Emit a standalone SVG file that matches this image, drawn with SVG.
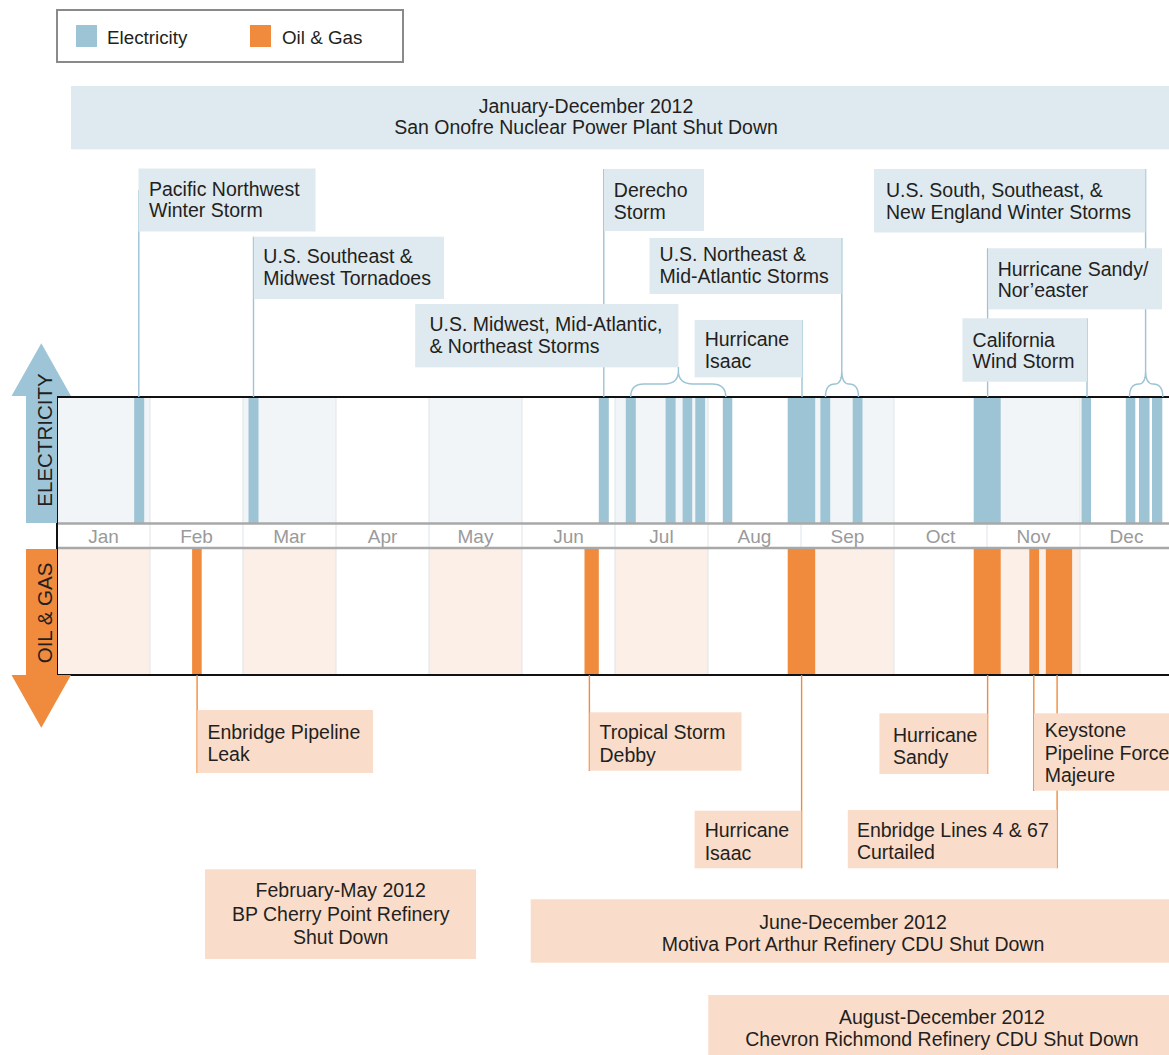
<svg xmlns="http://www.w3.org/2000/svg" width="1169" height="1055" viewBox="0 0 1169 1055">
<style>
.t{font-family:"Liberation Sans",Arial,sans-serif;font-size:19.5px;fill:#231f20}
.c{text-anchor:middle}
.eb{fill:#dfe9f0}
.ob{fill:#fadcca}
.ebar{fill:#9dc4d5}
.obar{fill:#f08a3c}
.esh{fill:#f1f5f8}
.osh{fill:#fbefe8}
.el{stroke:#9dc4d5;stroke-width:1.4;fill:none}
.ol{stroke:#f08a3c;stroke-width:1.4;fill:none}
.mon{font-family:"Liberation Sans",Arial,sans-serif;font-size:19px;fill:#9a9a9a;text-anchor:middle}
.grid{stroke:#dfe4e8;stroke-width:1}
</style>
<rect width="1169" height="1055" fill="#ffffff"/>

<g id="legend">
<rect x="57" y="10" width="346" height="52" fill="#ffffff" stroke="#8a8a8a" stroke-width="2"/>
<rect x="76" y="25" width="21" height="22" class="ebar"/>
<text x="107" y="44" class="t" style="font-size:18.8px">Electricity</text>
<rect x="250" y="25" width="21" height="22" class="obar"/>
<text x="282" y="44" class="t" style="font-size:18.8px">Oil &amp; Gas</text>
</g>

<g id="timeline">
<rect x="57" y="397" width="93" height="126" class="esh"/>
<rect x="243" y="397" width="93" height="126" class="esh"/>
<rect x="429" y="397" width="93" height="126" class="esh"/>
<rect x="615" y="397" width="93" height="126" class="esh"/>
<rect x="801" y="397" width="93" height="126" class="esh"/>
<rect x="987" y="397" width="93" height="126" class="esh"/>
<rect x="57" y="548" width="93" height="127" class="osh"/>
<rect x="243" y="548" width="93" height="127" class="osh"/>
<rect x="429" y="548" width="93" height="127" class="osh"/>
<rect x="615" y="548" width="93" height="127" class="osh"/>
<rect x="801" y="548" width="93" height="127" class="osh"/>
<rect x="987" y="548" width="93" height="127" class="osh"/>
<g class="grid">
<line x1="150" y1="397" x2="150" y2="675"/><line x1="243" y1="397" x2="243" y2="675"/>
<line x1="336" y1="397" x2="336" y2="675"/><line x1="429" y1="397" x2="429" y2="675"/>
<line x1="522" y1="397" x2="522" y2="675"/><line x1="615" y1="397" x2="615" y2="675"/>
<line x1="708" y1="397" x2="708" y2="675"/><line x1="801" y1="397" x2="801" y2="675"/>
<line x1="894" y1="397" x2="894" y2="675"/><line x1="987" y1="397" x2="987" y2="675"/>
<line x1="1080" y1="397" x2="1080" y2="675"/>
</g>
<g id="elec-bars">
<rect x="134.2" y="397" width="10" height="126" class="ebar"/>
<rect x="248.5" y="397" width="10" height="126" class="ebar"/>
<rect x="598.8" y="397" width="10" height="126" class="ebar"/>
<rect x="625.8" y="397" width="10" height="126" class="ebar"/>
<rect x="665.6" y="397" width="10" height="126" class="ebar"/>
<rect x="682.6" y="397" width="9.6" height="126" class="ebar"/>
<rect x="695.3" y="397" width="9.8" height="126" class="ebar"/>
<rect x="722.8" y="397" width="9.5" height="126" class="ebar"/>
<rect x="787.7" y="397" width="27.5" height="126" class="ebar"/>
<rect x="820.4" y="397" width="9.8" height="126" class="ebar"/>
<rect x="852.7" y="397" width="9.8" height="126" class="ebar"/>
<rect x="973.7" y="397" width="27" height="126" class="ebar"/>
<rect x="1081.5" y="397" width="9.5" height="126" class="ebar"/>
<rect x="1125.8" y="397" width="9.5" height="126" class="ebar"/>
<rect x="1139" y="397" width="10.5" height="126" class="ebar"/>
<rect x="1152" y="397" width="10.3" height="126" class="ebar"/>
</g>
<g id="oil-bars">
<rect x="192.1" y="548" width="9.6" height="127" class="obar"/>
<rect x="584.5" y="548" width="14.3" height="127" class="obar"/>
<rect x="787.7" y="548" width="27.5" height="127" class="obar"/>
<rect x="973.7" y="548" width="27" height="127" class="obar"/>
<rect x="1029.3" y="548" width="9.8" height="127" class="obar"/>
<rect x="1045.8" y="548" width="26.3" height="127" class="obar"/>
</g>
<line x1="57" y1="523.5" x2="1169" y2="523.5" stroke="#a8a8a8" stroke-width="2.5"/>
<line x1="57" y1="548" x2="1169" y2="548" stroke="#a8a8a8" stroke-width="2.5"/>
<rect x="57" y="397" width="1120" height="278" fill="none" stroke="#111111" stroke-width="2"/>
<g id="months">
<text x="103.5" y="542.7" class="mon">Jan</text>
<text x="196.5" y="542.7" class="mon">Feb</text>
<text x="289.5" y="542.7" class="mon">Mar</text>
<text x="382.5" y="542.7" class="mon">Apr</text>
<text x="475.5" y="542.7" class="mon">May</text>
<text x="568.5" y="542.7" class="mon">Jun</text>
<text x="661.5" y="542.7" class="mon">Jul</text>
<text x="754.5" y="542.7" class="mon">Aug</text>
<text x="847.5" y="542.7" class="mon">Sep</text>
<text x="940.5" y="542.7" class="mon">Oct</text>
<text x="1033.5" y="542.7" class="mon">Nov</text>
<text x="1126.5" y="542.7" class="mon">Dec</text>
</g>
</g>

<g id="electricity-axis">
<polygon points="26,523 26,396 11.5,396 41.3,343.3 71,396 57,396 57,523" fill="#9dc5d7"/>
<text x="-440" y="51.7" transform="rotate(-90)" class="t c" style="font-size:20.5px">ELECTRICITY</text>
</g>
<g id="oil-axis">
<polygon points="26,549 57,549 57,675 71,675 41.3,727.7 11.5,675 26,675" fill="#f08a3c"/>
<text x="-613" y="51.7" transform="rotate(-90)" class="t c" style="font-size:20.5px">OIL &amp; GAS</text>
</g>

<g id="connectors">
<line x1="138.8" y1="190" x2="138.8" y2="397" class="el"/>
<line x1="253.5" y1="236.7" x2="253.5" y2="397" class="el"/>
<line x1="603.8" y1="169" x2="603.8" y2="397" class="el"/>
<line x1="678.4" y1="367" x2="678.4" y2="371" class="el"/>
<path d="M630.7,397 Q630.7,384 644,384 L664,384 Q678.4,384 678.4,371 Q678.4,384 693,384 L712,384 Q725.8,384 725.8,397" class="el"/>
<line x1="841.8" y1="238" x2="841.8" y2="371" class="el"/>
<path d="M825.5,397 Q825.5,384 835,384 Q841.8,384 841.8,371 Q841.8,384 849,384 Q858.5,384 858.5,397" class="el"/>
<line x1="802" y1="320" x2="802" y2="397" class="el"/>
<line x1="1145.6" y1="169" x2="1145.6" y2="371" class="el"/>
<path d="M1129.5,397 Q1129.5,384 1139,384 Q1145.6,384 1145.6,371 Q1145.6,384 1153,384 Q1162.8,384 1162.8,397" class="el"/>
<line x1="987.6" y1="248.3" x2="987.6" y2="397" class="el"/>
<line x1="1087" y1="318.3" x2="1087" y2="397" class="el"/>
<line x1="197.1" y1="675" x2="197.1" y2="773" class="ol"/>
<line x1="589.4" y1="675" x2="589.4" y2="771" class="ol"/>
<line x1="801.6" y1="675" x2="801.6" y2="868.3" class="ol"/>
<line x1="987.6" y1="675" x2="987.6" y2="774" class="ol"/>
<line x1="1033.8" y1="675" x2="1033.8" y2="791" class="ol"/>
<line x1="1057.1" y1="675" x2="1057.1" y2="868.3" class="ol"/>
</g>

<g id="san-onofre">
<rect x="71" y="86" width="1098" height="63.3" class="eb"/>
<text x="586" y="112.7" class="t c">January-December 2012</text>
<text x="586" y="134" class="t c">San Onofre Nuclear Power Plant Shut Down</text>
</g>
<g id="pacific-northwest">
<rect x="138.5" y="168.5" width="177" height="63" class="eb"/>
<text x="149" y="195.5" class="t">Pacific Northwest</text>
<text x="149" y="217.2" class="t">Winter Storm</text>
</g>
<g id="derecho">
<rect x="604" y="169" width="100" height="62" class="eb"/>
<text x="613.8" y="197" class="t">Derecho</text>
<text x="613.8" y="218.5" class="t">Storm</text>
</g>
<g id="us-south-winter">
<rect x="874" y="169" width="271.4" height="63.5" class="eb"/>
<text x="886" y="197" class="t">U.S. South, Southeast, &amp;</text>
<text x="886" y="219" class="t">New England Winter Storms</text>
</g>
<g id="se-midwest-tornadoes">
<rect x="253.8" y="236.7" width="190.2" height="62.3" class="eb"/>
<text x="263.3" y="263.3" class="t">U.S. Southeast &amp;</text>
<text x="263.3" y="285" class="t">Midwest Tornadoes</text>
</g>
<g id="ne-midatlantic-storms">
<rect x="649.5" y="238" width="192" height="56" class="eb"/>
<text x="659.6" y="260.5" class="t">U.S. Northeast &amp;</text>
<text x="659.6" y="283" class="t">Mid-Atlantic Storms</text>
</g>
<g id="sandy-noreaster">
<rect x="988" y="248.3" width="174" height="61" class="eb"/>
<text x="997.7" y="275.5" class="t">Hurricane Sandy/</text>
<text x="997.7" y="297" class="t">Nor’easter</text>
</g>
<g id="midwest-storms">
<rect x="415.2" y="304" width="263.2" height="63.3" class="eb"/>
<text x="429.4" y="330.7" class="t">U.S. Midwest, Mid-Atlantic,</text>
<text x="429.4" y="352.7" class="t">&amp; Northeast Storms</text>
</g>
<g id="isaac-electricity">
<rect x="694.6" y="320" width="107.4" height="57.3" class="eb"/>
<text x="704.7" y="346" class="t">Hurricane</text>
<text x="704.7" y="368" class="t">Isaac</text>
</g>
<g id="california-wind">
<rect x="962.4" y="318.3" width="124.6" height="63.4" class="eb"/>
<text x="972.6" y="346.5" class="t">California</text>
<text x="972.6" y="368" class="t">Wind Storm</text>
</g>

<g id="enbridge-leak">
<rect x="197.4" y="710" width="175.7" height="63" class="ob"/>
<text x="207.4" y="739.3" class="t">Enbridge Pipeline</text>
<text x="207.4" y="761" class="t">Leak</text>
</g>
<g id="debby">
<rect x="589.7" y="712.3" width="151.8" height="58.4" class="ob"/>
<text x="599.5" y="739.3" class="t">Tropical Storm</text>
<text x="599.5" y="761.5" class="t">Debby</text>
</g>
<g id="sandy-oil">
<rect x="879.4" y="713.3" width="108" height="60.7" class="ob"/>
<text x="892.9" y="741.7" class="t">Hurricane</text>
<text x="892.9" y="764" class="t">Sandy</text>
</g>
<g id="keystone">
<rect x="1034" y="713.3" width="140" height="77.4" class="ob"/>
<text x="1044.7" y="737.3" class="t">Keystone</text>
<text x="1044.7" y="760" class="t">Pipeline Force</text>
<text x="1044.7" y="781.7" class="t">Majeure</text>
</g>
<g id="isaac-oil">
<rect x="694.6" y="810.7" width="106.8" height="57.6" class="ob"/>
<text x="704.7" y="836.7" class="t">Hurricane</text>
<text x="704.7" y="859.5" class="t">Isaac</text>
</g>
<g id="enbridge-lines">
<rect x="847.8" y="810" width="209" height="58.3" class="ob"/>
<text x="856.9" y="836.7" class="t">Enbridge Lines 4 &amp; 67</text>
<text x="856.9" y="859.3" class="t">Curtailed</text>
</g>
<g id="bp-cherry-point">
<rect x="205" y="869.3" width="271" height="89.7" class="ob"/>
<text x="340.7" y="897.3" class="t c">February-May 2012</text>
<text x="340.7" y="921.2" class="t c">BP Cherry Point Refinery</text>
<text x="340.7" y="944.3" class="t c">Shut Down</text>
</g>
<g id="motiva">
<rect x="530.7" y="899.3" width="638.3" height="63.4" class="ob"/>
<text x="853" y="929.3" class="t c">June-December 2012</text>
<text x="853" y="950.7" class="t c">Motiva Port Arthur Refinery CDU Shut Down</text>
</g>
<g id="chevron">
<rect x="708.3" y="995" width="460.7" height="60" class="ob"/>
<text x="942" y="1024" class="t c">August-December 2012</text>
<text x="942" y="1046" class="t c">Chevron Richmond Refinery CDU Shut Down</text>
</g>
</svg>
